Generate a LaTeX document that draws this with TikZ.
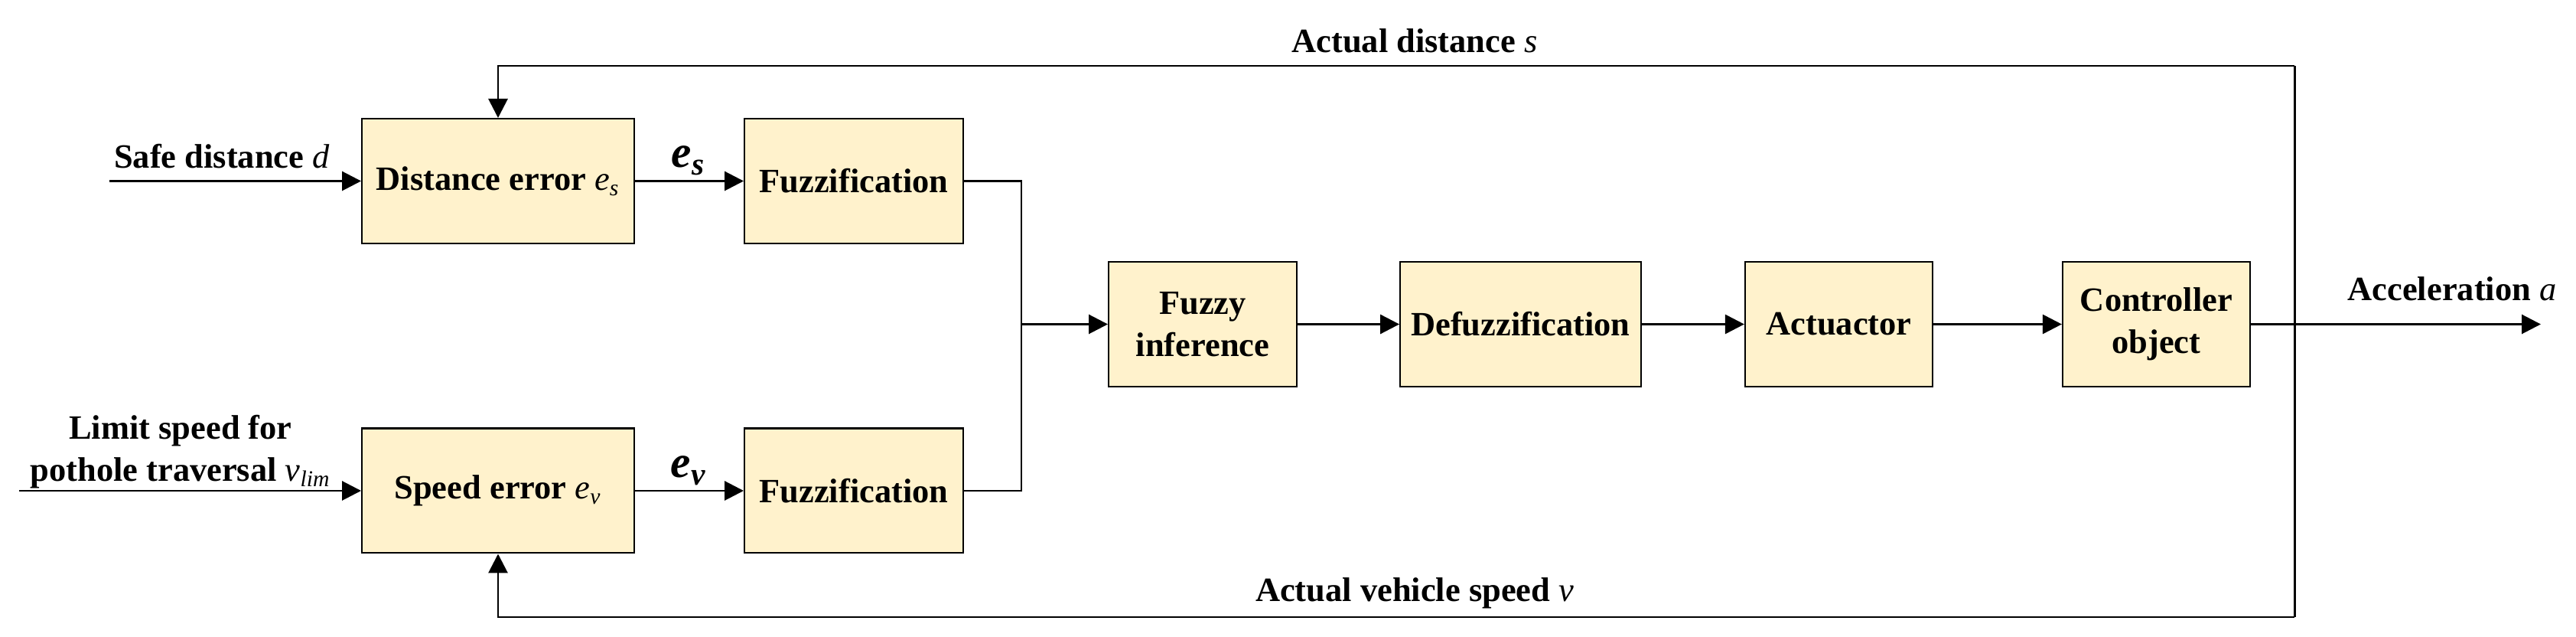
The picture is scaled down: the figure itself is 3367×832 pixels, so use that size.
\documentclass[tikz,border=0pt]{standalone}
\usepackage{fontspec}
\setmainfont{Liberation Serif}
\usepackage{xcolor}
\usetikzlibrary{arrows.meta}
\definecolor{boxyellow}{HTML}{FFF2CC}
\newcommand{\var}[1]{\textmd{\textit{#1}}}

\begin{document}
\begin{tikzpicture}[x = 0.27pt, y = -0.27pt,
		font = \fontsize{12}{15}\selectfont\bfseries,
		block/.style = {draw, line width = 0.55pt, fill = boxyellow, minimum height = 44pt, inner sep = 0pt, align = center},
		flow/.style = {line width = 0.8pt, -{Triangle[length = 6.75pt, width = 6.75pt]}},
		wire/.style = {line width = 0.8pt},
		errlabel/.style = {font = \fontsize{16}{18}\selectfont\bfseries\itshape}]
							\useasboundingbox (0,0) rectangle (3367,832);
				
							\node [block, minimum width = 96.1pt] (dist) at (651,236.5) {Distance error \var{e}\textsubscript{\var{s}}};
							\node [block, minimum width = 77.2pt] (fuzs) at (1116,236.5) {Fuzzification};
							\node [block, minimum width = 96.1pt] (speed) at (651,641) {Speed error \var{e}\textsubscript{\var{v}}};
							\node [block, minimum width = 77.2pt] (fuzv) at (1116,641) {Fuzzification};
							\node [block, minimum width = 66.4pt] (infer) at (1572,423.5) {Fuzzy\\inference};
							\node [block, minimum width = 85pt] (defuz) at (1987.5,423.5) {Defuzzification};
							\node [block, minimum width = 66.2pt] (act) at (2403.5,423.5) {Actuactor};
							\node [block, minimum width = 66.2pt] (plant) at (2818.5,423.5) {Controller\\object};
				
							\coordinate (safein) at (143,236.5);
							\coordinate (limin) at (25,641);
							\coordinate (join) at (1335,423.5);
							\coordinate (accout) at (3321,423.5);
							\coordinate (branch) at (2999,423.5);
							\coordinate (fbtop) at (2999,86);
							\coordinate (fbbot) at (2999,806);
				
							\node (lsafe) at (290,204) {Safe distance \var{d}};
							\node [align = center] (llim) at (236,590) {Limit speed for\\pothole traversal \var{v}\textsubscript{\var{lim}}};
							\node [errlabel] (les) at (900,210) {e\textsubscript{s}};
							\node [errlabel] (lev) at (900,615) {e\textsubscript{v}};
							\node (lacc) at (3205,377) {Acceleration \var{a}};
							\node (ldist) at (1849,53) {Actual distance \var{s}};
							\node (lspeed) at (1849,775) {Actual vehicle speed \var{v}};
				
							\draw [flow] (safein) -- (dist);
							\draw [flow] (limin) -- (speed);
							\draw [flow] (dist) -- (fuzs);
							\draw [flow] (speed) -- (fuzv);
							\draw [wire] (fuzs.east) -| (join) |- (fuzv.east);
							\draw [flow] (join) -- (infer);
							\draw [flow] (infer) -- (defuz);
							\draw [flow] (defuz) -- (act);
							\draw [flow] (act) -- (plant);
							\draw [flow] (plant) -- (accout);
							\draw [wire] (fbtop) -- (fbbot);
							\draw [flow] (fbtop) -| (dist.north);
							\draw [flow] (fbbot) -| (speed.south);
						\end{tikzpicture}
\end{document}
